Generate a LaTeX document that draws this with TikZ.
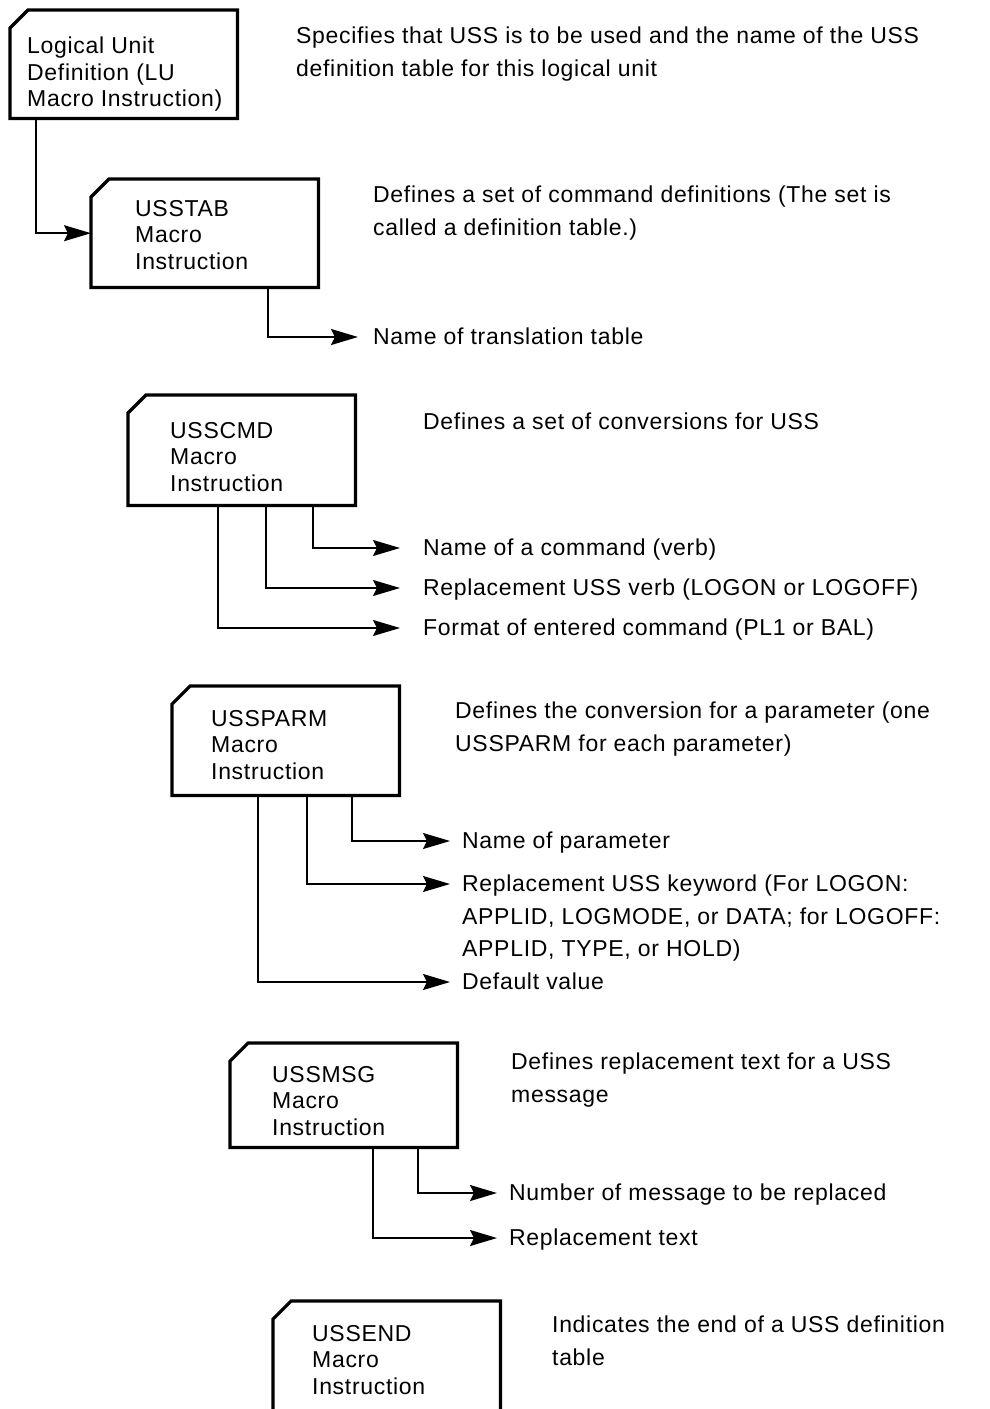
\documentclass[tikz,border=0pt]{standalone}
\usepackage{fontspec}
\setmainfont{Liberation Sans}[LetterSpace=3]
\usetikzlibrary{arrows.meta}

% outline of a macro box: rectangle with the upper left corner cut off
\newcommand\macroframe[1]{%
  \draw[boxline] ([yshift=-18pt]#1.north west) -- ([xshift=18pt]#1.north west)
    -- (#1.north east) -- (#1.south east) -- (#1.south west) -- cycle;}

\begin{document}
\begin{tikzpicture}[x=1pt,y=-1pt,
  font=\fontsize{23}{32.5}\selectfont,
  macbox/.style={draw=none, minimum width=227pt, minimum height=108pt,
    inner sep=0pt, anchor=north west},
  boxline/.style={line width=3.2pt, line join=miter},
  boxtext/.style={anchor=north west, inner sep=0pt, align=left,
    font=\fontsize{23}{26.5}\selectfont},
  desc/.style={anchor=north west, inner sep=0pt, align=left},
  conn/.style={line width=1.8pt, -{Stealth[length=27pt,width=16pt,inset=4pt]}}
]
\clip (0,0) rectangle (989,1409);
\fill[white] (0,0) rectangle (989,1409);

% ---- boxes ----
\node[macbox] (b1) at (10,10) {};
\node[macbox] (b2) at (91,179) {};
\node[macbox, minimum height=110pt] (b3) at (128,395) {};
\node[macbox, minimum height=109pt] (b4) at (172,686) {};
\node[macbox, minimum height=104pt] (b5) at (230,1043) {};
\node[macbox, minimum height=140pt] (b6) at (273,1301) {};
\foreach \b in {b1,b2,b3,b4,b5,b6} {\macroframe{\b}}

\node[boxtext] (b1t) at (27,37)   {Logical Unit\\Definition (LU\\Macro Instruction)};
\node[boxtext] (b2t) at (135,200) {USSTAB\\Macro\\Instruction};
\node[boxtext] (b3t) at (170,422) {USSCMD\\Macro\\Instruction};
\node[boxtext] (b4t) at (211,710) {USSPARM\\Macro\\Instruction};
\node[boxtext] (b5t) at (272,1066) {USSMSG\\Macro\\Instruction};
\node[boxtext] (b6t) at (312,1325) {USSEND\\Macro\\Instruction};

% ---- descriptions ----
\node[desc] (d1) at (296,27)  {Specifies that USS is to be used and the name of the USS\\definition table for this logical unit};
\node[desc] (d2) at (373,186) {Defines a set of command definitions (The set is\\called a definition table.)};
\node[desc] (t1) at (373,328) {Name of translation table};
\node[desc] (d3) at (423,413) {Defines a set of conversions for USS};
\node[desc] (c1) at (423,539) {Name of a command (verb)};
\node[desc] (c2) at (423,579) {Replacement USS verb (LOGON or LOGOFF)};
\node[desc] (c3) at (423,619) {Format of entered command (PL1 or BAL)};
\node[desc] (d4) at (455,702) {Defines the conversion for a parameter (one\\USSPARM for each parameter)};
\node[desc] (p1) at (462,832) {Name of parameter};
\node[desc] (p2) at (462,875) {Replacement USS keyword (For LOGON:\\APPLID, LOGMODE, or DATA; for LOGOFF:\\APPLID, TYPE, or HOLD)};
\node[desc] (p3) at (462,973) {Default value};
\node[desc] (d5) at (511,1053) {Defines replacement text for a USS\\message};
\node[desc] (m1) at (509,1184) {Number of message to be replaced};
\node[desc] (m2) at (509,1229) {Replacement text};
\node[desc] (d6) at (552,1316) {Indicates the end of a USS definition\\table};

% ---- connectors ----
\draw[conn] ([xshift=26pt]b1.south west) |- (b2.west);
\draw[conn] ([xshift=177pt]b2.south west) |- ([xshift=-15pt,yshift=-9pt]t1.north west);

\draw[conn] ([xshift=185pt]b3.south west) |- ([xshift=-23pt,yshift=-9pt]c1.north west);
\draw[conn] ([xshift=138pt]b3.south west) |- ([xshift=-23pt,yshift=-9pt]c2.north west);
\draw[conn] ([xshift=90pt]b3.south west)  |- ([xshift=-23pt,yshift=-9pt]c3.north west);

\draw[conn] ([xshift=180pt]b4.south west) |- ([xshift=-12pt,yshift=-9pt]p1.north west);
\draw[conn] ([xshift=135pt]b4.south west) |- ([xshift=-12pt,yshift=-9pt]p2.north west);
\draw[conn] ([xshift=86pt]b4.south west)  |- ([xshift=-12pt,yshift=-9pt]p3.north west);

\draw[conn] ([xshift=188pt]b5.south west) |- ([xshift=-12pt,yshift=-9pt]m1.north west);
\draw[conn] ([xshift=143pt]b5.south west) |- ([xshift=-12pt,yshift=-9pt]m2.north west);
\end{tikzpicture}
\end{document}
